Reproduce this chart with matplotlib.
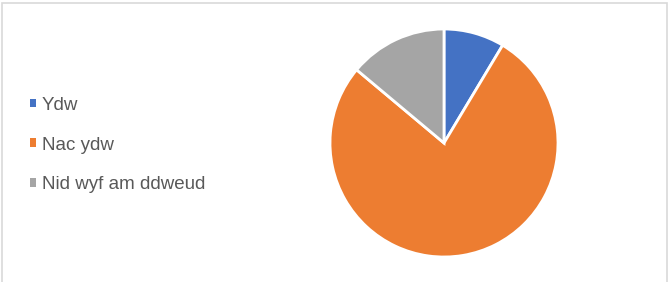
import numpy as np
import matplotlib.pyplot as plt
from matplotlib.patches import Rectangle

labels = ["Ydw", "Nac ydw", "Nid wyf am ddweud"]
values = [8.6, 77.5, 13.9]
colors = ["#4472C4", "#ED7D31", "#A5A5A5"]

plt.rcParams['font.family'] = ['Liberation Sans', 'DejaVu Sans']
fig = plt.figure(figsize=(6.69, 2.82), dpi=100)
W, H = 669, 282

# chart area border (bottom edge cut off)
fig.patches.append(Rectangle((1.5 / W, -0.1), 665 / W, 1.1 - 2.5 / H,
                             transform=fig.transFigure, fill=False,
                             edgecolor='#D9D9D9', lw=1.2))

cx, cy, r = 444, 143, 114
ax = fig.add_axes([(cx - r) / W, (H - cy - r) / H, 2 * r / W, 2 * r / H])
wedges, _ = ax.pie(values, colors=colors, startangle=90, counterclock=False,
                   wedgeprops=dict(edgecolor='white', linewidth=2))
ax.set_xlim(-1.0, 1.0)
ax.set_ylim(-1.0, 1.0)
ax.set_aspect('equal')

leg = fig.legend(wedges, labels, loc='center left',
                 bbox_to_anchor=(30 / W, (H - 145) / H), frameon=False,
                 fontsize=13.5, labelcolor='#595959', handlelength=0.33,
                 handleheight=0.33, handletextpad=0.3, labelspacing=1.22,
                 borderpad=0, borderaxespad=0)
for h in leg.legend_handles:
    h.set_edgecolor('none')

fig.savefig('out.png', dpi=100)
